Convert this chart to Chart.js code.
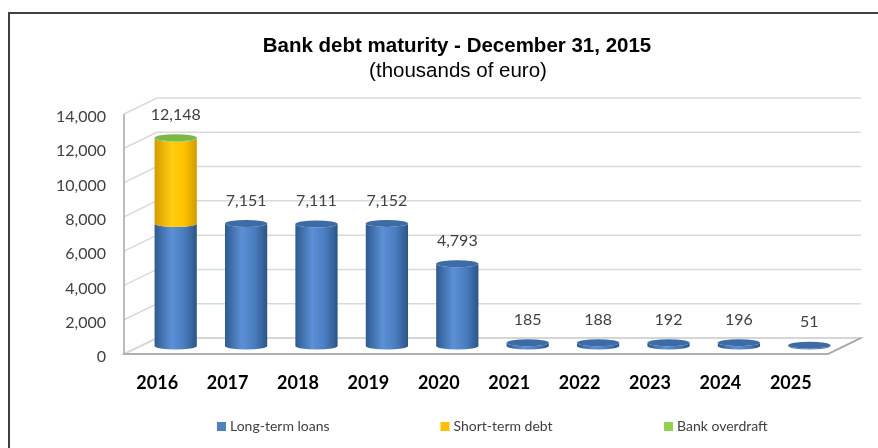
<!DOCTYPE html>
<html>
<head>
<meta charset="utf-8">
<title>Bank debt maturity</title>
<script src="https://cdn.jsdelivr.net/npm/chart.js@4/dist/chart.umd.min.js"></script>
<style>
   html, body { margin: 0; padding: 0; background: #fff; }
   #wrap { position: relative; width: 878px; height: 448px; }
</style>
</head>
<body>
<div id="wrap"><canvas id="debtChart"></canvas></div>
<script>
// Maturity years and amounts (thousands of euro)
const years = ['2016', '2017', '2018', '2019', '2020', '2021', '2022', '2023', '2024', '2025'];
const longTermLoans = [7150, 7151, 7111, 7152, 4793, 185, 188, 192, 196, 51];
const shortTermDebt = [4950, 0, 0, 0, 0, 0, 0, 0, 0, 0];
const bankOverdraft = [48, 0, 0, 0, 0, 0, 0, 0, 0, 0];
const yTicks = [0, 2000, 4000, 6000, 8000, 10000, 12000, 14000];

const seriesColors = ['#4F81BD', '#FFC000', '#92D050'];
// cylinder shading: left edge, highlight, mid, right edge, cap
const shades = [
   ['#2d5a90', '#5c90d6', '#4a7dc0', '#2b5587', '#3d6ba5'],
   ['#d49c00', '#ffcd10', '#ffc200', '#d09a00', '#f0b400'],
   ['#6ea83a', '#9ad85a', '#8cc84e', '#6aa238', '#7bb846']
];

// depth of the 3D box (back wall offset from the front plane)
const DX = 33, DY = -16;
const RY = 3.5;

function cylinderBody(ctx, cx, rx, top, base) {
   ctx.beginPath();
   ctx.moveTo(cx - rx, top);
   ctx.lineTo(cx - rx, base);
   ctx.ellipse(cx, base, rx, RY, 0, Math.PI, 0, true);
   ctx.lineTo(cx + rx, top);
   ctx.ellipse(cx, top, rx, RY, 0, 0, Math.PI, false);
   ctx.closePath();
}

const box3d = {
   id: 'box3d',
   beforeDraw(chart) {
       const ctx = chart.ctx;
       const a = chart.chartArea;
       const y = chart.scales.y;
       ctx.save();
       // outer frame
       ctx.strokeStyle = '#404040';
       ctx.lineWidth = 2;
       ctx.strokeRect(9, 13, 1000, 1000);

       // floor
       ctx.fillStyle = '#ffffff';
       ctx.strokeStyle = '#bfbfbf';
       ctx.lineWidth = 1.5;
       ctx.beginPath();
       ctx.moveTo(a.left, a.bottom);
       ctx.lineTo(a.right, a.bottom);
       ctx.lineTo(a.right + DX, a.bottom + DY);
       ctx.lineTo(a.left + DX, a.bottom + DY);
       ctx.closePath();
       ctx.fill();
       ctx.stroke();

       // gridlines on side wall and back wall
       ctx.strokeStyle = '#d9d9d9';
       ctx.lineWidth = 1.5;
       yTicks.forEach(v => {
           const yy = y.getPixelForValue(v);
           ctx.beginPath();
           ctx.moveTo(a.left, yy);
           ctx.lineTo(a.left + DX, yy + DY);
           ctx.lineTo(a.right + DX, yy + DY);
           ctx.stroke();
       });

       // front edges
       ctx.strokeStyle = '#a6a6a6';
       ctx.beginPath();
       ctx.moveTo(a.left, a.top);
       ctx.lineTo(a.left, a.bottom);
       ctx.lineTo(a.right, a.bottom);
       ctx.lineTo(a.right + DX, a.bottom + DY);
       ctx.stroke();
       ctx.restore();
   },
   beforeDatasetsDraw(chart) {
       const ctx = chart.ctx;
       const metas = chart.data.datasets.map((d, i) => chart.getDatasetMeta(i));
       ctx.save();
       years.forEach((yr, j) => {
           // topmost non-empty segment gets the cap
           let last = -1;
           chart.data.datasets.forEach((d, i) => { if (d.data[j] > 0) last = i; });
           chart.data.datasets.forEach((d, i) => {
               if (!(d.data[j] > 0)) return;
               const bar = metas[i].data[j];
               const cx = bar.x + DX / 2;
               const rx = bar.width / 2;
               const top = bar.y + DY / 2;
               const base = bar.base + DY / 2;
               const s = shades[i];
               const g = ctx.createLinearGradient(cx - rx, 0, cx + rx, 0);
               g.addColorStop(0, s[0]);
               g.addColorStop(0.4, s[1]);
               g.addColorStop(0.7, s[2]);
               g.addColorStop(1, s[3]);
               cylinderBody(ctx, cx, rx, top, base);
               ctx.fillStyle = g;
               ctx.fill();
               if (i === last) {
                   ctx.beginPath();
                   ctx.ellipse(cx, top, rx, RY, 0, 0, Math.PI * 2);
                   ctx.fillStyle = s[4];
                   ctx.fill();
               }
           });
       });
       ctx.restore();
       return false;
   },
   afterDraw(chart) {
       const ctx = chart.ctx;
       const y = chart.scales.y;
       const meta = chart.getDatasetMeta(0);
       ctx.save();

       // value labels above each cylinder
       ctx.font = '16px Lato';
       ctx.fillStyle = '#404040';
       ctx.textAlign = 'center';
       ctx.textBaseline = 'middle';
       years.forEach((yr, j) => {
           const total = longTermLoans[j] + shortTermDebt[j] + bankOverdraft[j];
           const cx = meta.data[j].x + DX / 2;
           const ty = y.getPixelForValue(total) + DY / 2 - 23;
           ctx.fillText(total.toLocaleString('en-US'), cx, ty);
       });

       // title
       ctx.fillStyle = '#000000';
       ctx.font = 'bold 20.5px "Liberation Sans", Arial';
       ctx.fillText('Bank debt maturity - December 31, 2015', 457, 46);
       ctx.font = '20.5px "Liberation Sans", Arial';
       ctx.fillText('(thousands of euro)', 458, 71);

       // legend
       ctx.font = '14px Lato';
       ctx.textAlign = 'left';
       chart.data.datasets.forEach((d, i) => {
           const lx = 217 + i * 223.5;
           ctx.fillStyle = d.backgroundColor;
           ctx.fillRect(lx, 422, 9, 9);
           ctx.fillStyle = '#404040';
           ctx.fillText(d.label, lx + 13, 426.5);
       });
       ctx.restore();
   }
};

const ctx = document.getElementById('debtChart').getContext('2d');
new Chart(ctx, {
   type: 'bar',
   data: {
       labels: years,
       datasets: [
           { label: 'Long-term loans', data: longTermLoans, backgroundColor: seriesColors[0] },
           { label: 'Short-term debt', data: shortTermDebt, backgroundColor: seriesColors[1] },
           { label: 'Bank overdraft', data: bankOverdraft, backgroundColor: seriesColors[2] }
       ]
   },
   options: {
       responsive: true,
       maintainAspectRatio: false,
       animation: false,
       categoryPercentage: 1,
       barPercentage: 0.6,
       layout: { padding: { top: 114, right: 50, bottom: 0, left: 0 } },
       plugins: {
           legend: { display: false },
           title: { display: false },
           tooltip: { enabled: false }
       },
       scales: {
           x: {
               stacked: true,
               grid: { display: false, drawTicks: false },
               border: { display: false },
               ticks: {
                   padding: 18,
                   labelOffset: -2,
                   color: '#000000',
                   font: { family: 'Lato', size: 18, weight: 'bold' }
               },
               afterFit: s => { s.height = 94; }
           },
           y: {
               stacked: true,
               min: 0,
               max: 14000,
               grid: { display: false, drawTicks: false },
               border: { display: false },
               ticks: {
                   stepSize: 2000,
                   padding: 18,
                   labelOffset: 3,
                   color: '#404040',
                   font: { family: 'Lato', size: 16 }
               },
               afterFit: s => { s.width = 124; }
           }
       }
   },
   plugins: [box3d]
});
</script>
</body>
</html>
